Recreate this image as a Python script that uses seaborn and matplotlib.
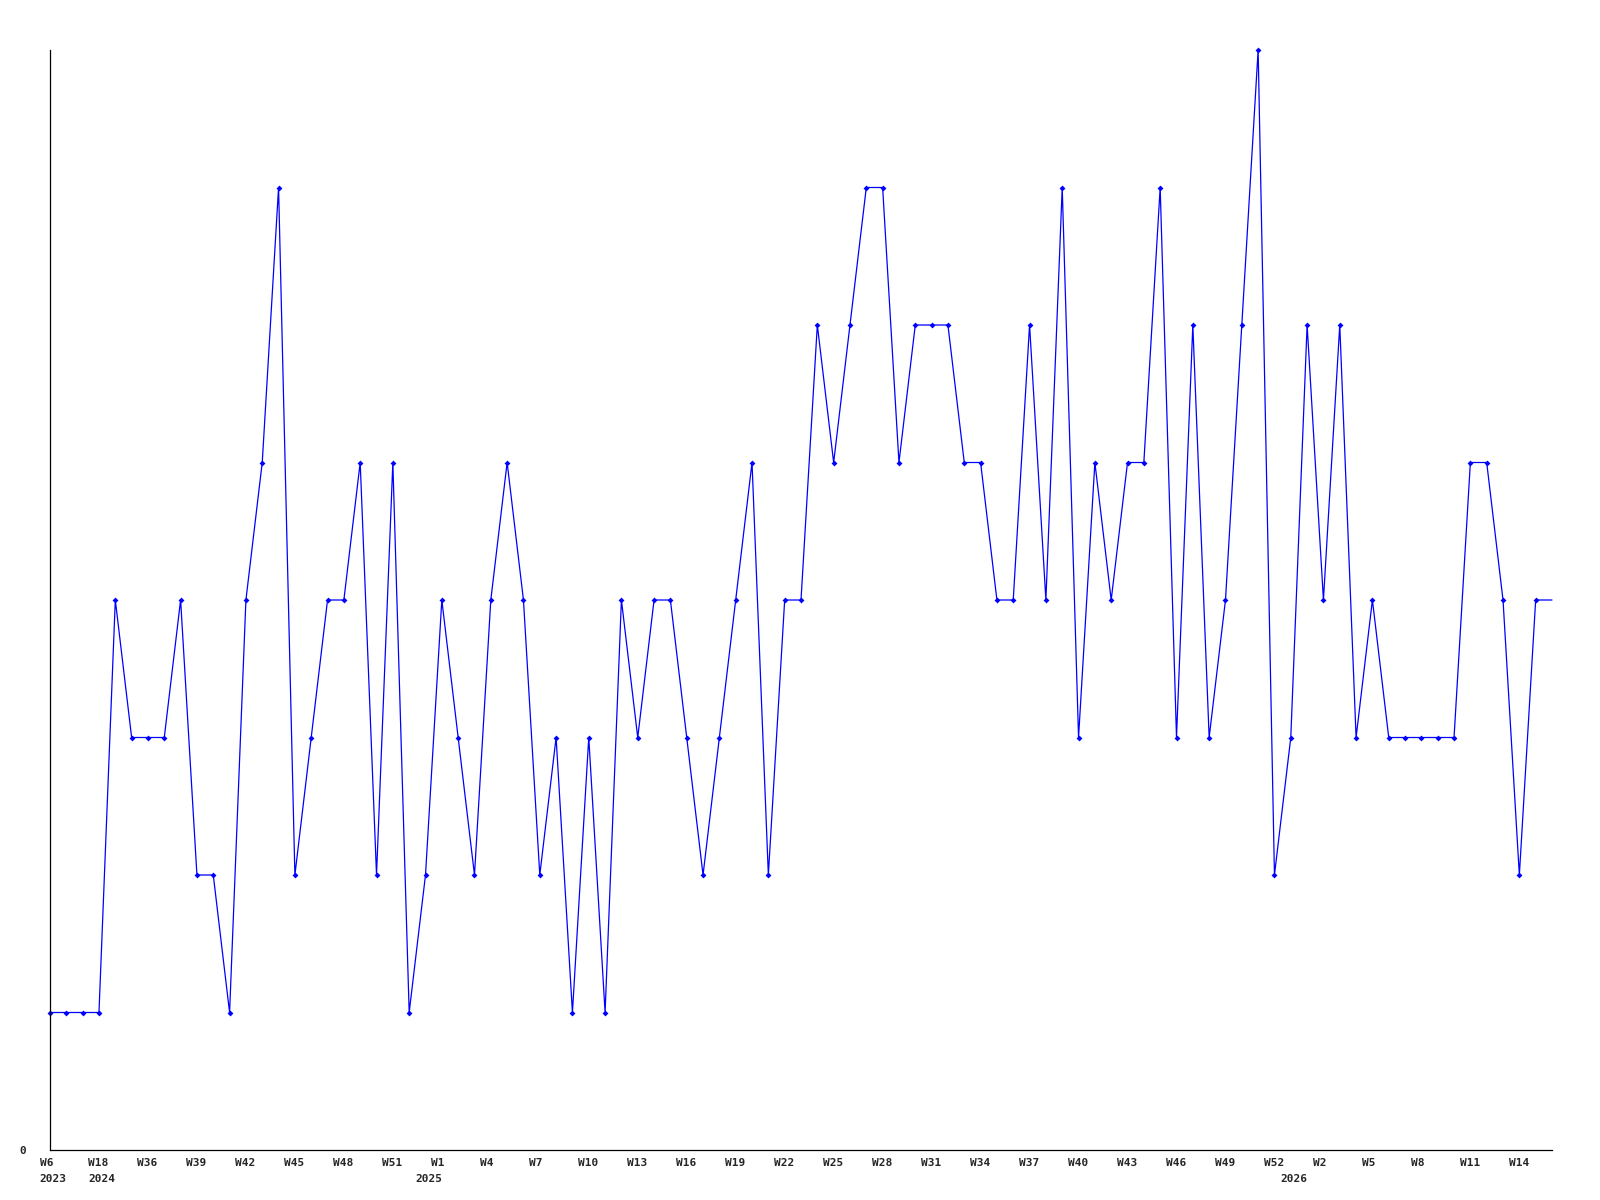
import numpy as np
import matplotlib
matplotlib.use("Agg")
import matplotlib.pyplot as plt
import matplotlib.transforms as mtransforms
import seaborn as sns

# weekly counts, one per point (last one is the open week, drawn without marker)
counts = [1, 1, 1, 1, 4, 3, 3, 3, 4, 2,
          2, 1, 4, 5, 7, 2, 3, 4, 4, 5,
          2, 5, 1, 2, 4, 3, 2, 4, 5, 4,
          2, 3, 1, 3, 1, 4, 3, 4, 4, 3,
          2, 3, 4, 5, 2, 4, 4, 6, 5, 6,
          7, 7, 5, 6, 6, 6, 5, 5, 4, 4,
          6, 4, 7, 3, 5, 4, 5, 5, 7, 3,
          6, 3, 4, 6, 8, 2, 3, 6, 4, 6,
          3, 4, 3, 3, 3, 3, 3, 5, 5, 4,
          2, 4, 4]

# week label on every third point
week_labels = ["W6", "W18", "W36", "W39", "W42", "W45", "W48", "W51", "W1", "W4",
               "W7", "W10", "W13", "W16", "W19", "W22", "W25", "W28", "W31", "W34",
               "W37", "W40", "W43", "W46", "W49", "W52", "W2", "W5", "W8", "W11", "W14"]
year_points = [0, 3, 23, 76]
year_labels = ["2023", "2024", "2025", "2026"]

sns.set_style("white")
plt.rcParams["font.family"] = ["DejaVu Sans Mono"]

x = np.arange(len(counts))

fig = plt.figure(figsize=(16, 12), dpi=100)
ax = fig.add_axes([50 / 1600, 1 - 1150 / 1200, 1502 / 1600, 1100 / 1200])

sns.lineplot(x=x, y=counts, ax=ax, color="#0000ff", linewidth=0.9,
             marker="D", markersize=3, markeredgewidth=0, markerfacecolor="#0000ff",
             markevery=list(range(len(counts) - 1)), errorbar=None, clip_on=False)

ax.set_xlim(0, len(counts) - 1)
ax.set_ylim(0, max(counts))

ax.set_xticks([])
ax.set_yticks([0], ["0"])
for t in ax.get_yticklabels():
    t.set_fontweight("bold")
    t.set_fontsize(8)
ax.tick_params(axis="y", length=0, pad=17)

# labels start a little left of their point, weeks on top, years underneath
base = ax.get_xaxis_transform()
week_tr = base + mtransforms.ScaledTranslation(-10.5 / 100, -8 / 100, fig.dpi_scale_trans)
year_tr = base + mtransforms.ScaledTranslation(-10.5 / 100, -23.5 / 100, fig.dpi_scale_trans)
for i, w in enumerate(week_labels):
    ax.text(x[i * 3], 0, w, transform=week_tr, ha="left", va="top",
            fontsize=8, fontweight="bold", clip_on=False)
for p, yr in zip(year_points, year_labels):
    ax.text(x[p], 0, yr, transform=year_tr, ha="left", va="top",
            fontsize=8, fontweight="bold", clip_on=False)

for side in ["top", "right"]:
    ax.spines[side].set_visible(False)
for side in ["left", "bottom"]:
    ax.spines[side].set_color("black")
    ax.spines[side].set_linewidth(0.9)
ax.set_xlabel("")
ax.set_ylabel("")

fig.savefig("out.png", dpi=100, facecolor="white")
